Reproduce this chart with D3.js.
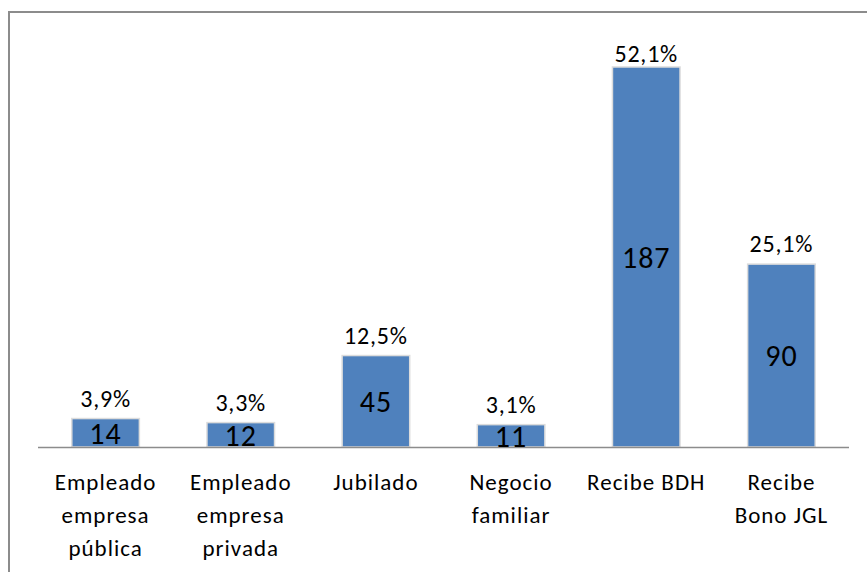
<!DOCTYPE html>
<html>
<head>
<meta charset="utf-8">
<script src="https://cdn.jsdelivr.net/npm/d3@7"></script>
<style>
  body { margin: 0; background: #fff; }
  svg text { font-family: Carlito, Calibri, Lato, sans-serif; fill: #000; }
</style>
</head>
<body>
<div id="chart"></div>
<script>
// data
var categories = [
  ["Empleado", "empresa", "pública"],
  ["Empleado", "empresa", "privada"],
  ["Jubilado"],
  ["Negocio", "familiar"],
  ["Recibe BDH"],
  ["Recibe", "Bono JGL"]
];
var counts = [14, 12, 45, 11, 187, 90];
var percents = ["3,9%", "3,3%", "12,5%", "3,1%", "52,1%", "25,1%"];

var width = 867, height = 572;
var margin = {top: 67, right: 18, bottom: 125, left: 38};

var svg = d3.select("#chart")
  .append("svg")
  .attr("width", width)
  .attr("height", height);

// outer frame (runs off the right/bottom edge)
svg.append("rect")
  .attr("x", 9)
  .attr("y", 12)
  .attr("width", width + 20)
  .attr("height", height + 20)
  .attr("fill", "none")
  .attr("stroke", "#8c8c8c")
  .attr("stroke-width", 2);

var idx = d3.range(categories.length);

var xScale = d3.scaleBand()
  .domain(idx)
  .range([margin.left, width - margin.right])
  .paddingInner(0.5)
  .paddingOuter(0.25);

var yScale = d3.scaleLinear()
  .domain([0, 187])
  .range([height - margin.bottom, margin.top]);

var base = yScale(0);

// draw bars
svg.selectAll(".bar")
  .data(idx)
  .enter()
  .append("rect")
  .attr("class", "bar")
  .attr("x", function(i) { return xScale(i); })
  .attr("y", function(i) { return yScale(counts[i]); })
  .attr("width", xScale.bandwidth())
  .attr("height", function(i) { return base - yScale(counts[i]); })
  .attr("fill", "#4f81bd")
  .attr("stroke", "#dcdcdc")
  .attr("stroke-width", 1.5);

// baseline
svg.append("line")
  .attr("x1", margin.left)
  .attr("x2", width - margin.right)
  .attr("y1", base + 0.5)
  .attr("y2", base + 0.5)
  .attr("stroke", "#8c8c8c")
  .attr("stroke-width", 1.5);

// counts centred in the bars
svg.selectAll(".count")
  .data(idx)
  .enter()
  .append("text")
  .attr("class", "count")
  .attr("x", function(i) { return xScale(i) + xScale.bandwidth() / 2; })
  .attr("y", function(i) { return (yScale(counts[i]) + base) / 2; })
  .attr("dy", "0.36em")
  .attr("text-anchor", "middle")
  .style("font-size", "30px")
  .style("letter-spacing", "1px")
  .text(function(i) { return counts[i]; });

// percentages above the bars (kept inside the plot top like excel does)
svg.selectAll(".pct")
  .data(idx)
  .enter()
  .append("text")
  .attr("class", "pct")
  .attr("x", function(i) { return xScale(i) + xScale.bandwidth() / 2; })
  .attr("y", function(i) { return Math.max(yScale(counts[i]) - 12, margin.top - 5); })
  .attr("text-anchor", "middle")
  .style("font-size", "24px")
  .style("letter-spacing", "0.8px")
  .text(function(i) { return percents[i]; });

// category labels
var cat = svg.selectAll(".cat")
  .data(idx)
  .enter()
  .append("text")
  .attr("class", "cat")
  .attr("text-anchor", "middle")
  .style("font-size", "23px")
  .style("letter-spacing", "1px");

cat.each(function(i) {
  var t = d3.select(this);
  categories[i].forEach(function(line, k) {
    t.append("tspan")
      .attr("x", xScale(i) + xScale.bandwidth() / 2)
      .attr("y", base + 43 + k * 33)
      .text(line);
  });
});
</script>
</body>
</html>
